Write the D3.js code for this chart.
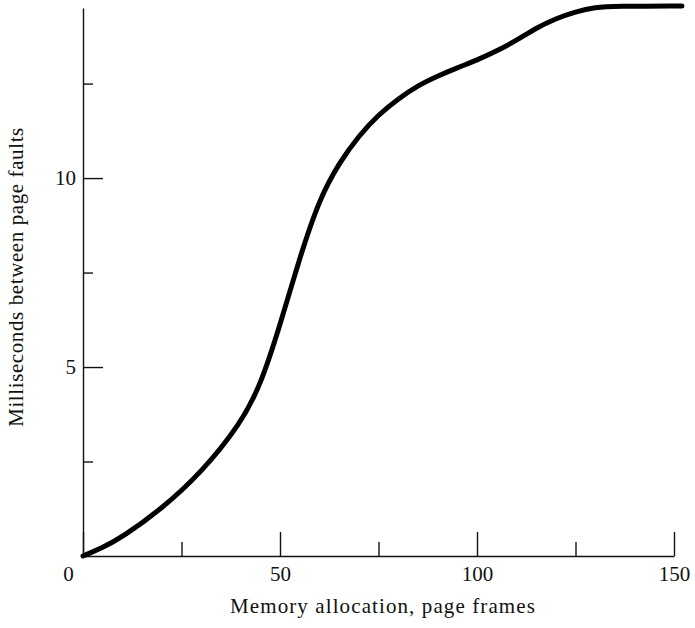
<!DOCTYPE html>
<html>
<head>
<meta charset="utf-8">
<script src="https://cdn.jsdelivr.net/npm/d3@7"></script>
<style>
  body { margin: 0; background: #fff; }
  svg { display: block; }
</style>
</head>
<body>
<div id="chart"></div>
<script>
// memory allocation (page frames) vs ms between page faults
const frames = [0, 5, 10, 20, 30, 40, 45, 50, 55, 60, 65, 70, 75, 80, 85, 90, 95, 100, 105, 110, 115, 120, 125, 130, 135, 152];
const msBetween = [0, 0.22, 0.5, 1.25, 2.2, 3.5, 4.5, 6.1, 7.9, 9.45, 10.4, 11.12, 11.68, 12.1, 12.45, 12.7, 12.92, 13.12, 13.36, 13.64, 13.97, 14.22, 14.4, 14.52, 14.55, 14.55];

const xMajor = [0, 50, 100, 150];
const xMinor = [25, 75, 125];
const yMajor = [5, 10];
const yMinor = [2.5, 7.5, 12.5];

const width = 695, height = 628;
const font = "'Liberation Serif', 'Times New Roman', serif";

const svg = d3.select("#chart")
  .append("svg")
  .attr("width", width)
  .attr("height", height);

const x = d3.scaleLinear()
  .domain([0, 150])
  .range([83, 674]);

const y = d3.scaleLinear()
  .domain([0, 14.5])
  .range([556, 8]);

// x axis, ticks point up into the plot
const xAxis = svg.append("g")
  .attr("transform", `translate(0,${y(0)})`)
  .call(d3.axisBottom(x).tickValues(xMajor).tickSize(-24).tickSizeOuter(0).tickPadding(10));

svg.append("g")
  .attr("transform", `translate(0,${y(0)})`)
  .call(d3.axisBottom(x).tickValues(xMinor).tickSize(-14).tickSizeOuter(0).tickFormat(""))
  .select(".domain").remove();

// y axis, ticks point right
svg.append("g")
  .attr("transform", `translate(${x(0)},0)`)
  .call(d3.axisLeft(y).tickValues(yMajor).tickSize(-20).tickSizeOuter(0).tickPadding(7));

svg.append("g")
  .attr("transform", `translate(${x(0)},0)`)
  .call(d3.axisLeft(y).tickValues(yMinor).tickSize(-10).tickSizeOuter(0).tickFormat(""))
  .select(".domain").remove();

svg.selectAll(".domain, .tick line")
  .attr("stroke", "#111")
  .attr("stroke-width", 1.4);

svg.selectAll(".tick text")
  .attr("fill", "#111")
  .style("font-family", font)
  .style("font-size", "21px");

// the 0 label sits left of the origin
xAxis.selectAll(".tick text")
  .filter(d => d === 0)
  .attr("x", -15);

// curve, smoothed through the read-off points
const line = d3.line()
  .x((d, i) => x(frames[i]))
  .y(d => y(d))
  .curve(d3.curveBasis);

svg.append("path")
  .datum(msBetween)
  .attr("d", line)
  .attr("fill", "none")
  .attr("stroke", "#000")
  .attr("stroke-width", 5)
  .attr("stroke-linecap", "round")
  .attr("stroke-linejoin", "round");

// axis titles
svg.append("text")
  .text("Memory allocation, page frames")
  .attr("x", 383)
  .attr("y", 613)
  .attr("text-anchor", "middle")
  .attr("fill", "#111")
  .style("font-family", font)
  .style("font-size", "21px")
  .style("letter-spacing", "1.1px");

svg.append("text")
  .text("Milliseconds between page faults")
  .attr("transform", "translate(23,277) rotate(-90)")
  .attr("text-anchor", "middle")
  .attr("fill", "#111")
  .style("font-family", font)
  .style("font-size", "21px")
  .style("letter-spacing", "0.6px");
</script>
</body>
</html>
